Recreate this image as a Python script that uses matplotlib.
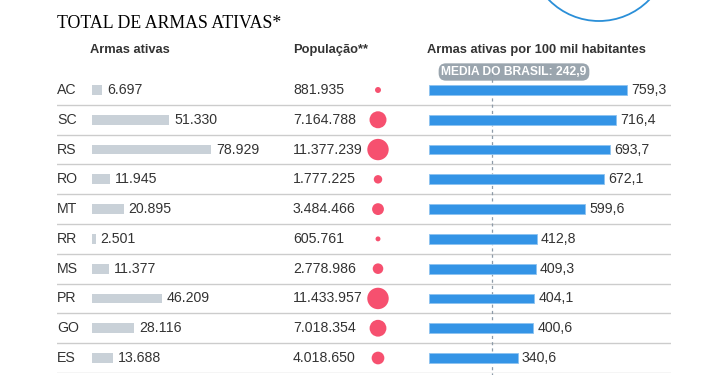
import matplotlib
matplotlib.use('Agg')
import matplotlib.pyplot as plt
from matplotlib.patches import Circle

plt.rcParams['font.family'] = ['Liberation Sans', 'DejaVu Sans']

# dados
estados = ['AC', 'SC', 'RS', 'RO', 'MT', 'RR', 'MS', 'PR', 'GO', 'ES']
armas = [6697, 51330, 78929, 11945, 20895, 2501, 11377, 46209, 28116, 13688]
populacao = [881935, 7164788, 11377239, 1777225, 3484466, 605761, 2778986,
             11433957, 7018354, 4018650]
taxa = [759.3, 716.4, 693.7, 672.1, 599.6, 412.8, 409.3, 404.1, 400.6, 340.6]
media_brasil = 242.9


def fmt_int(v):
    return f'{v:,}'.replace(',', '.')


def fmt_dec(v):
    return f'{v:.1f}'.replace('.', ',')


W, H = 718, 375
TXT = '#333333'
FS = 10.2

fig = plt.figure(figsize=(W / 100, H / 100), dpi=100)

# fundo em pixels (título, cabeçalhos, círculo decorativo)
bg = fig.add_axes([0, 0, 1, 1])
bg.set_xlim(0, W); bg.set_ylim(H, 0); bg.axis('off')
bg.add_patch(Circle((599, -49), 70, fill=False, ec='#2a8fd8', lw=1.3))
bg.text(57, 23, 'TOTAL DE ARMAS ATIVAS*', family='Liberation Serif',
        fontsize=12.8, color='black', va='center', ha='left')
for x, t in [(90, 'Armas ativas'), (293, 'População**'),
             (427, 'Armas ativas por 100 mil habitantes')]:
    bg.text(x, 50, t, fontsize=9.3, fontweight='bold', color=TXT,
            va='center', ha='left')

# linhas da tabela
top, bot = 75.1, 372.9
rect_y = (1 - bot / H, (bot - top) / H)
n = len(estados)
rows = list(range(n))

ax = fig.add_axes([57 / W, rect_y[0], 614 / W, rect_y[1]])
ax.set_xlim(57, 671); ax.set_ylim(n - 0.5, -0.5); ax.axis('off')
ax.patch.set_alpha(0)
for i in rows:
    ax.axhline(i + 0.5, color='#cccccc', lw=1)
    ax.text(57, i, estados[i], fontsize=FS, color=TXT, va='center')
    ax.text(293, i, fmt_int(populacao[i]), fontsize=FS, color=TXT, va='center')
r = [3.17 * (p / 1e6) ** 0.5 for p in populacao]
ax.scatter([378] * n, rows, s=[(2 * v * 0.72) ** 2 for v in r],
           color='#f6506f', lw=0, zorder=3)

# barras cinzas - armas ativas
ag = fig.add_axes([92 / W, rect_y[0], 198 / W, rect_y[1]])
ag.set_xlim(0, 198 / 0.001508); ag.set_ylim(n - 0.5, -0.5); ag.axis('off')
ag.patch.set_alpha(0)
ag.barh(rows, armas, height=0.33, color='#c9d1d8')
for i in rows:
    ag.annotate(fmt_int(armas[i]), (armas[i], i), xytext=(3.5, 0),
                textcoords='offset points', fontsize=FS, color=TXT, va='center')

# barras azuis - taxa por 100 mil
ab = fig.add_axes([429 / W, rect_y[0], 242 / W, rect_y[1]])
ab.set_xlim(0, 242 / 0.2608); ab.set_ylim(n - 0.5, -0.5); ab.axis('off')
ab.patch.set_alpha(0)
ab.barh(rows, taxa, height=0.33, color='#3494e6', ec='#8cc2f0', lw=0.6)
for i in rows:
    ab.annotate(fmt_dec(taxa[i]), (taxa[i], i), xytext=(3, 0),
                textcoords='offset points', fontsize=FS, color=TXT, va='center')
ab.axvline(media_brasil, ymin=-0.01, ymax=1.013, color='#8d9ba8', lw=0.9,
           ls=(0, (2.5, 2.5)), clip_on=False, zorder=0)

bg.text(514, 72, f'MEDIA DO BRASIL: {fmt_dec(media_brasil)}', fontsize=8.7,
        fontweight='bold', color='white', ha='center', va='center',
        bbox=dict(boxstyle='round,pad=0.22,rounding_size=0.6',
                  fc='#9aa5ae', ec='none'))

fig.savefig('out.png', dpi=100)
